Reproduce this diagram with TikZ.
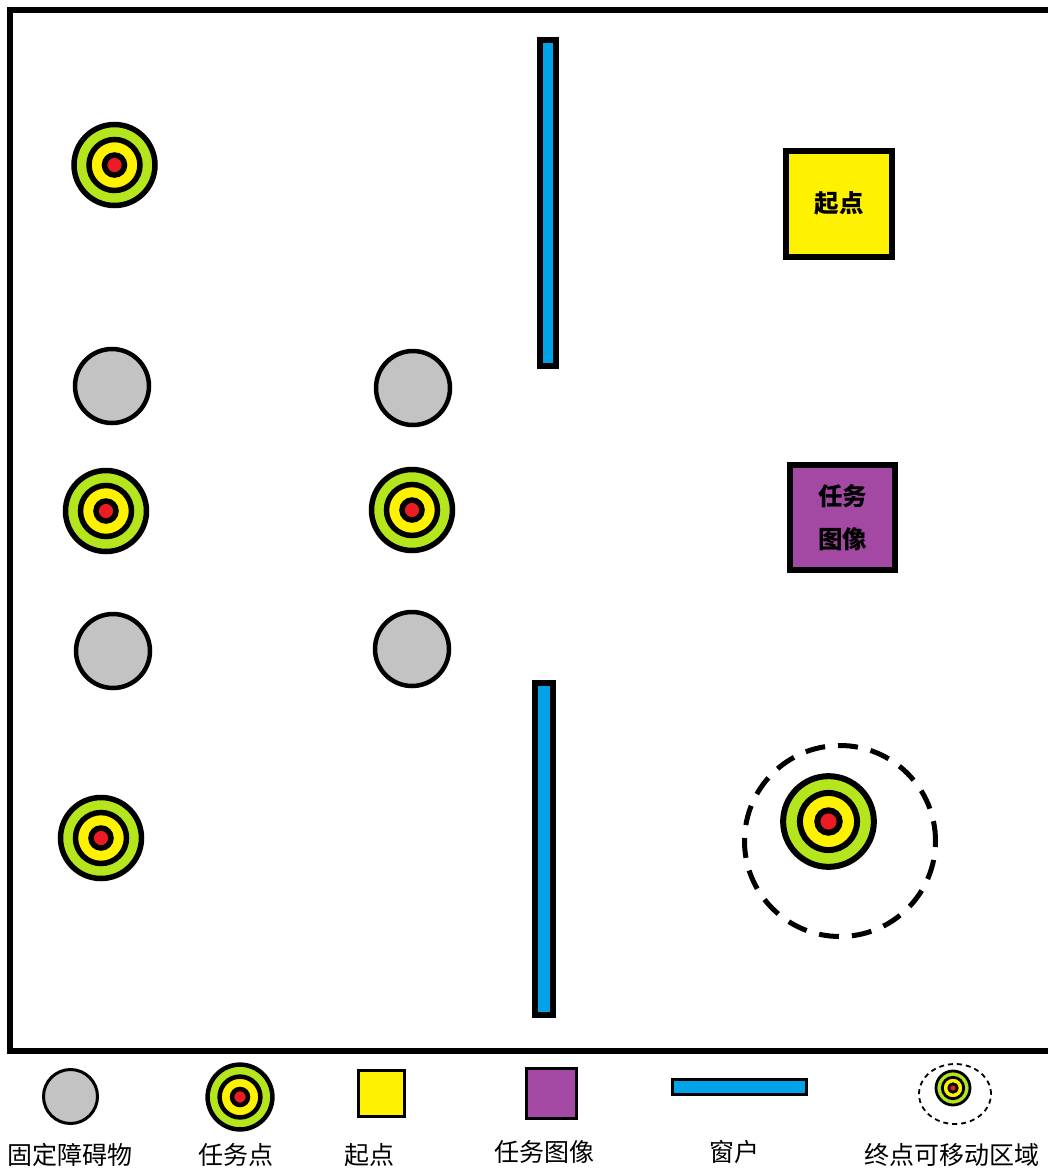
\documentclass[tikz,border=0pt]{standalone}
\usepackage{fontspec}
\newfontfamily\cjk{Noto Sans CJK SC}
\definecolor{tgreen}{HTML}{B5E61D}
\definecolor{tyellow}{HTML}{FFF200}
\definecolor{tred}{HTML}{ED1C24}
\definecolor{tblue}{HTML}{00A2E8}
\definecolor{tpurple}{HTML}{A349A4}
\definecolor{tgray}{HTML}{C3C3C3}
\newcommand\tgtat[4]{%
  \begin{scope}[shift={#1},scale=#2]
    \draw[line width=#3,fill=tgreen] (0,0) circle (40.5pt);
    \draw[line width=#3,fill=tyellow] (0,0) circle (25.5pt);
    \draw[line width=#3,fill=tred] (0,0) circle (10pt);
    \coordinate (#4) at (0,0);
  \end{scope}}
\tikzset{
  obstacle/.style={circle,draw,line width=4.5pt,fill=tgray,minimum size=74pt,inner sep=0pt},
  legobstacle/.style={circle,draw,line width=3pt,fill=tgray,minimum size=54pt,inner sep=0pt},
  windowbar/.style={draw,line width=6pt,fill=tblue},
  startbox/.style={rectangle,draw,line width=6pt,fill=tyellow,minimum size=106pt,inner sep=0pt,font=\cjk\bfseries\fontsize{24.5pt}{28pt}\selectfont},
  taskbox/.style={rectangle,draw,line width=6pt,fill=tpurple,minimum size=105pt,inner sep=0pt,align=center,font=\cjk\bfseries\fontsize{24.5pt}{43pt}\selectfont},
  legtext/.style={font=\cjk\fontsize{25pt}{28pt}\selectfont,inner sep=0pt},
}
\begin{document}
\begin{tikzpicture}[x=1pt,y=-1pt]
\useasboundingbox[fill=white] (0,0) rectangle (1048,1171);
% frame
\draw[line width=6pt] (1048,10) -- (10,10) -- (10,1051) -- (1048,1051);
% windows
\draw[windowbar] (540,40) rectangle (556,366);
\draw[windowbar] (535,683) rectangle (553,1015);
% obstacles
\node[obstacle] (o1) at (112,386) {};
\node[obstacle] (o2) at (413,388) {};
\node[obstacle] (o3) at (113,651) {};
\node[obstacle] (o4) at (412,649) {};
% task points
\tgtat{(114.5,165)}{1}{5.5pt}{t1}
\tgtat{(106,511)}{1}{5.5pt}{t2}
\tgtat{(412,510)}{1}{5.5pt}{t3}
\tgtat{(101,838)}{1}{5.5pt}{t4}
\draw[line width=5pt,dash pattern=on 20pt off 13pt] (840,841) circle (95.5pt);
\tgtat{(828.5,821.5)}{1.12}{6pt}{t5}
% boxes
\node[startbox] (start) at (839,203.5) {起点};
\node[taskbox] (task) at (842.5,517.5) {任务\\图像};
% legend
\node[legobstacle] (lo) at (70.5,1096.5) {};
\tgtat{(240,1097)}{0.8}{4.5pt}{lt}
\node[rectangle,draw,line width=2.5pt,fill=tyellow,minimum size=46pt,inner sep=0pt] (ls) at (381.5,1093.5) {};
\node[rectangle,draw,line width=3pt,fill=tpurple,minimum size=50pt,inner sep=0pt] (lp) at (551,1093.5) {};
\draw[line width=3pt,fill=tblue] (672.5,1079.5) rectangle (806.5,1094.5);
\draw[line width=1.8pt,dash pattern=on 5pt off 4pt] (955,1094) ellipse (36pt and 30pt);
\tgtat{(953,1088)}{0.42}{2.8pt}{le}
\node[legtext] (l1) at (70,1155) {固定障碍物};
\node[legtext] (l2) at (236,1155) {任务点};
\node[legtext] (l3) at (369,1155) {起点};
\node[legtext] (l4) at (544,1152) {任务图像};
\node[legtext] (l5) at (734,1152) {窗户};
\node[legtext] (l6) at (952,1155) {终点可移动区域};
\end{tikzpicture}
\end{document}
